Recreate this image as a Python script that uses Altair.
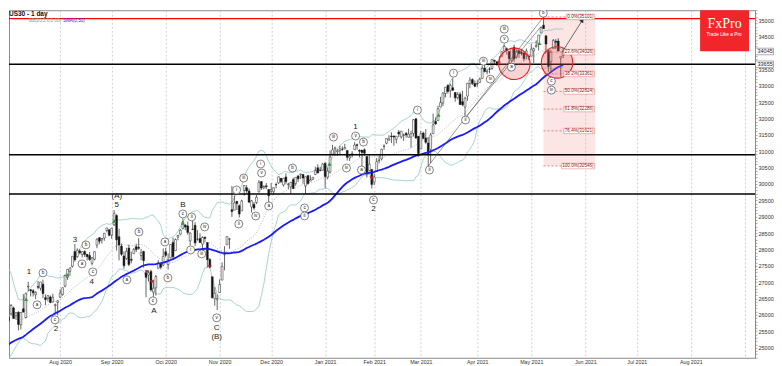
import altair as alt
import pandas as pd

# ---------------- US30 daily candles: bar 0 = 29 Jun 2020 ... bar 229 = 20 May 2021 ----------------
opens = [
    25152, 25512, 25879, 25933, 26035, 26213, 25971, 26081, 25698, 26185, 25919, 26852, 26768, 26737, 26615, 26868, 26814, 26938, 26524, 26502, 26548, 26396, 26283, 26382,
    26538, 26622, 26878, 27146, 27331, 27487, 27937, 27777, 27952, 27842, 27932, 27848, 27816, 27574, 27698, 28130, 28358, 28291, 28344, 28577, 28600,
    28439, 28749, 29035, 28388, 28100, 27800, 27718, 28040, 27697, 27870, 28084, 28066, 27813, 27934, 27286, 27218, 27328, 26693, 26826, 27422, 27576, 27522,
    27925, 27536, 27744, 28214, 27961, 28378, 28466, 28643, 28742, 28718, 28262, 28616, 28736, 28307, 28336, 28158, 28372, 28207, 27691, 27164, 26495, 26465,
    26681, 27062, 27834, 28136, 28310, 29211, 29199, 29467, 29333, 29175, 29803, 29883, 29785, 29298, 29376, 29433, 29755, 30073, 29880, 29940, 29829,
    29774, 29762, 29983, 30030, 30169, 29968, 30214, 29980, 29912, 30137, 30017, 30246, 30281, 30291, 29935, 30259, 30087, 30140, 30284, 30492, 30415, 30417,
    30627, 30204, 30362, 30904, 31069, 30983, 31016, 31063, 31068, 31023, 30790, 30887, 31047, 31196, 31026, 31032, 31040, 30838, 30409, 30442,
    30054, 30377, 30726, 30763, 31151, 31242, 31335, 31465, 31460, 31363, 31583, 31437, 31482, 31548, 31424, 31428, 31544, 31987, 31453,
    31066, 31552, 31403, 31246, 31054, 31531, 31910, 31933, 32351, 32472, 32761, 33005, 32849, 32937, 32793, 32629, 32740, 32512, 32344, 32681, 33060, 33187, 33070,
    33062, 33100, 33222, 33535, 33424, 33513, 33525, 33775, 33728, 33698, 33901, 34060, 34130, 34047, 33772, 34171, 33871, 34064, 34024, 33998, 33954, 33898,
    33904, 34060, 34191, 34271, 34609, 34849, 34525, 34069, 33730, 34138, 34357, 34365, 33845, 33920,
]
highs = [
    25600, 25905, 26018, 26205, 26331, 26251, 26075, 26109, 26084, 26632, 26681, 27013, 26784, 26784, 26723, 27030, 27005, 27078, 26627, 26601, 26595, 26646, 26345, 26443,
    26782, 26835, 27225, 27402, 27439, 27793, 28163, 28033, 28011, 27931, 27974, 27856, 27917, 27767, 27937, 28342, 28376, 28351, 28502, 28660, 28616,
    28659, 29199, 29072, 28630, 28180, 27940, 28051, 28145, 27931, 28044, 28173, 28339, 28016, 27961, 27371, 27361, 27380, 27077, 27213, 27670, 27599, 28030,
    28043, 27878, 28162, 28354, 28332, 28444, 28622, 28946, 28779, 28852, 28523, 28909, 28831, 28588, 28495, 28404, 28390, 28207, 27735, 27164, 26848, 26622,
    27084, 27603, 28097, 28390, 28349, 29934, 29645, 29468, 29380, 29519, 29964, 29963, 29862, 29508, 29446, 29660, 30116, 30081, 29960, 30026, 29844,
    30030, 29889, 30037, 30220, 30180, 30185, 30320, 30036, 30054, 30194, 30201, 30249, 30313, 30291, 30228, 30259, 30264, 30210, 30525, 30600, 30526, 30637,
    30674, 30504, 31022, 31194, 31140, 31062, 31167, 31150, 31224, 31035, 30900, 31001, 31272, 31231, 31057, 31033, 31089, 30838, 30873, 30455,
    30317, 30789, 30864, 31076, 31211, 31391, 31486, 31579, 31485, 31465, 31644, 31614, 31535, 31578, 31686, 31625, 31982, 32010, 31464,
    31621, 31592, 31674, 31432, 31561, 32150, 32031, 32389, 32661, 32793, 32954, 33047, 33064, 33227, 32793, 32806, 32804, 32849, 32660, 33086, 33259, 33225, 33161,
    33167, 33250, 33617, 33660, 33514, 33565, 33810, 33793, 33757, 33901, 34050, 34257, 34171, 34061, 34156, 34256, 34111, 34086, 34125, 34015, 34136, 33959,
    34271, 34164, 34384, 34549, 34811, 35101, 34525, 34084, 34094, 34425, 34423, 34450, 33900, 34146,
]
lows = [
    25061, 25475, 25678, 25789, 25976, 25876, 25853, 25524, 25553, 26067, 25890, 26720, 26560, 26560, 26483, 26781, 26740, 26513, 26294, 26409, 26369, 26377, 26024, 25981,
    26518, 26586, 26843, 27071, 27189, 27445, 27627, 27741, 27846, 27752, 27766, 27662, 27656, 27511, 27664, 28034, 28159, 28178, 28263, 28522, 28397,
    28326, 28715, 27964, 27665, 27800, 27406, 27679, 27487, 27575, 27870, 27920, 27984, 27672, 27442, 26537, 27025, 26709, 26538, 26591, 27422, 27390, 27489,
    27756, 27384, 27721, 27704, 27961, 28276, 28430, 28607, 28584, 28448, 28123, 28590, 28101, 28264, 28196, 27958, 28218, 27448, 27434, 26505, 26280, 26143,
    26681, 27062, 27360, 28136, 28017, 28990, 29197, 29203, 28973, 29175, 29638, 29727, 29434, 29128, 29208, 29381, 29742, 29813, 29840, 29835, 29440,
    29709, 29662, 29866, 30002, 30022, 29920, 29986, 29846, 29698, 29843, 29940, 30062, 30147, 30005, 29698, 29971, 30087, 30117, 30284, 30322, 30378, 30408,
    29881, 30141, 30314, 30897, 30865, 30862, 30906, 31010, 31055, 30710, 30700, 30810, 31047, 31045, 30813, 30454, 30864, 30195, 30379, 29856,
    29963, 30377, 30628, 30715, 31043, 31213, 31330, 31246, 31165, 31237, 31430, 31379, 31312, 31413, 31424, 31105, 31446, 31376, 30827,
    31066, 31366, 31227, 30546, 30631, 31531, 31804, 31933, 32351, 32383, 32640, 32760, 32636, 32843, 32510, 32580, 32407, 32373, 32039, 32538, 32920, 33018, 32952,
    32963, 33080, 33222, 33404, 33345, 33375, 33490, 33625, 33603, 33674, 33880, 34060, 33947, 33600, 33725, 33725, 33826, 33850, 33920, 33749, 33803, 33780,
    33904, 33691, 34162, 34076, 34609, 34743, 33989, 33420, 33450, 34138, 34117, 34042, 33273, 33844,
]
closes = [
    25595, 25813, 25734, 25827, 26287, 25890, 26067, 25706, 26075, 26086, 26643, 26870, 26735, 26672, 26680, 26840, 27005, 26652, 26470, 26584, 26379, 26539, 26314, 26428,
    26664, 26828, 27201, 27387, 27433, 27791, 27687, 27976, 27897, 27931, 27844, 27778, 27692, 27739, 27930, 28308, 28249, 28332, 28492, 28654, 28430,
    28645, 29100, 28293, 28133, 27850, 27500, 27940, 27535, 27666, 27993, 27995, 28032, 27902, 27657, 27147, 27288, 26763, 26815, 27174, 27584, 27452, 27782,
    27817, 27683, 28149, 27773, 28303, 28426, 28587, 28838, 28680, 28515, 28494, 28606, 28196, 28309, 28211, 28364, 28336, 27686, 27464, 26520, 26660, 26502,
    26925, 27481, 27848, 28390, 28323, 29158, 29421, 29398, 29080, 29480, 29950, 29784, 29438, 29483, 29263, 29591, 30046, 29873, 29920, 29910, 29639,
    29824, 29883, 29970, 30218, 30070, 30174, 30068, 29999, 30047, 29862, 30200, 30155, 30304, 30179, 30216, 30015, 30129, 30200, 30404, 30335, 30410, 30606,
    30224, 30392, 30829, 31041, 31098, 31009, 31069, 31061, 31113, 30814, 30850, 30931, 31188, 31176, 30997, 30960, 30937, 30303, 30603, 29983,
    30212, 30688, 30724, 31056, 31148, 31386, 31376, 31438, 31431, 31458, 31523, 31613, 31494, 31494, 31522, 31537, 31962, 31402, 30932,
    31535, 31391, 31270, 30924, 31496, 31802, 31833, 32297, 32485, 32779, 32953, 32826, 33015, 32862, 32628, 32731, 32423, 32420, 32619, 33072, 33171, 33066, 32982,
    33054, 33200, 33527, 33430, 33446, 33504, 33801, 33745, 33677, 33730, 34036, 34200, 34078, 33821, 34137, 33815, 34043, 33982, 33984, 33820, 34060, 33875,
    34113, 34133, 34230, 34548, 34778, 34743, 34270, 33587, 34021, 34382, 34327, 34060, 33896, 34045,
]
# closes of the bars before the first one drawn (16 Apr - 26 Jun 2020): they only feed SMA(50) and BB(20)
pre_closes = [
    23538, 24242, 23650, 23019, 23475, 23515, 23775, 24134, 24101, 24634, 24346,
    23724, 23750, 23883, 23664, 23876, 24331, 24222, 23765, 23248, 23625, 23685, 24597, 24207, 24576, 24474, 24465, 24995, 25548, 25401, 25383,
    25475, 25742, 26270, 26282, 27111, 27572, 27272, 26990, 25128, 25606, 25763, 26290, 26120, 26080, 25871, 26025, 26156, 25446, 25745, 25016,
]

# month separators (bar index of first bar of each month) and their labels
month_idx = [24, 45, 67, 89, 110, 132, 152, 171, 194, 216, 238, 259, 281, 303]
month_lab = ["Aug 2020", "Sep 2020", "Oct 2020", "Nov 2020", "Dec 2020", "Jan 2021", "Feb 2021",
             "Mar 2021", "Apr 2021", "May 2021", "Jun 2021", "Jul 2021", "Aug 2021", ""]

# horizontal levels
black_levels = [33655, 30891, 29692]
red_levels = [35050]
axis_boxes = [34045, 33655]

# Fibonacci retracement
fib_pct = [0.0, 23.6, 38.2, 50.0, 61.8, 76.4, 100.0]
fib_price = [35101, 34026, 33361, 32824, 32286, 31621, 30546]
fib_from_bar = 221
fib_to_bar = 242.0

# Elliott wave labels (circled)
circ_text = ["a", "b", "c", "a", "b", "c", "a", "b", "c", "a", "b", "c", "ii", "i", "iv", "iii", "v",
             "i", "ii", "iii", "iv", "i", "v", "a", "b", "c", "ii", "iii", "iv", "v", "b", "a", "c",
             "i", "ii", "i", "ii", "iii", "iv", "iii", "v", "a", "b", "c", "iv"]
circ_bar = [14.6, 17.0, 21.9, 32.9, 34.5, 37.3, 51.2, 56.1, 61.8, 66.7, 67.9, 74.0, 77.6, 77.2, 82.9, 81.7, 87.8,
            95.9, 96.8, 98.8, 103.7, 105.7, 106.1, 109.0, 118.7, 123.6, 123.6, 135.4, 140.7, 144.4, 147.6, 146.8, 151.7,
            169.6, 174.5, 184.3, 189.2, 196.5, 199.3, 205.0, 205.0, 207.9, 220.9, 224.2, 224.2]
circ_price = [26306, 27282, 25848, 27557, 28136, 27313, 27069, 28533, 26428, 28228, 27130, 29082, 28991, 27984, 28686, 27862, 25910,
              29814, 28777, 30180, 29021, 30608, 30333, 29326, 30485, 29265, 29021, 31431, 30485, 31462, 31279, 30424, 29509,
              32255, 30424, 33384, 31950, 33750, 33200, 34726, 34421, 33567, 35214, 33139, 32865]
# Elliott wave labels (plain)
plain_text = ["1", "2", "3", "4", "5", "(A)", "A", "B", "C", "(B)", "1", "2"]
plain_bar = [11.3, 22.3, 30.0, 36.9, 47.1, 47.1, 62.2, 74.0, 87.8, 87.8, 144.4, 151.7]
plain_price = [27313, 25574, 28289, 27008, 29357, 29631, 26123, 29357, 25604, 25330, 31736, 29235]

# signal arrows
up_bar = [10.1, 27.0, 46.1, 74.0, 133.8, 178.2, 219.3]
up_price = [26474, 27221, 28869, 28808, 30608, 32102, 34299]
down_bar = [59.3, 61.4, 85.0, 150.9]
down_price = [27313, 27008, 27465, 30180]

# highlight circles
ring_bar = [209.1, 226.5]
ring_price = [33667, 33710]

# trend lines and projection arrow
trend_x1 = [174, 188.3]
trend_y1 = [30546, 31950]
trend_x2 = [221, 219.7]
trend_y2 = [35101, 34782]
arrow_bar = [228.6, 236.8]
arrow_price = [34024, 35000]

# ---------------- chart ----------------
PLOT_W, PLOT_H = 747, 348
BAR_PX = 2.457
x0 = 3.156
xs = alt.Scale(domain=[x0, x0 + PLOT_W / BAR_PX], nice=False, zero=False)
ys = alt.Scale(domain=[24689, 35305], nice=False, zero=False)

label_expr = " : ".join(f"datum.value == {i} ? '{l}'" for i, l in zip(month_idx, month_lab)) + " : ''"
x_axis = alt.Axis(values=month_idx, labelExpr=label_expr, title=None, grid=True, gridColor="#b8b8b8",
                  gridDash=[2, 2], gridWidth=0.7, ticks=False, domain=False, labelFontSize=5.3,
                  labelColor="#333333", labelFont="Liberation Sans", labelPadding=2, labelFlush=False,
                  labelOverlap=False)
# labels every 500; 34000 sits under the live-price box, as on the original
y_axis = alt.Axis(orient="right", values=list(range(24700, 35301, 100)),
                  labelExpr="(datum.value % 500 == 0 && datum.value != 34000) ? format(datum.value, 'd') : ''",
                  title=None, grid=False,
                  tickSize=2, tickColor="#777777", tickWidth=0.6, domain=False, labelFontSize=5.5,
                  labelColor="#333333", labelFont="Liberation Sans", labelPadding=1, labelOverlap=False,
                  labelFlush=False)

bars_df = pd.DataFrame({"i": list(range(len(closes))), "open": opens, "high": highs, "low": lows, "close": closes})

# indicators: SMA(50) and Bollinger(20, 2) of the closes, warmed up on the earlier bars
all_close = pd.Series(pre_closes + closes, dtype=float)
bb_mid_s = all_close.rolling(20).mean()
bb_sd_s = all_close.rolling(20).std(ddof=0)
ind_df = pd.DataFrame({
    "i": list(range(-len(pre_closes), len(closes))),
    "sma50": all_close.rolling(50, min_periods=1).mean(),
    "bb_mid": bb_mid_s,
    "bb_up": bb_mid_s + 2 * bb_sd_s,
    "bb_lo": bb_mid_s - 2 * bb_sd_s,
})
ind_df = ind_df[ind_df["i"] >= 0].reset_index(drop=True)


def X(f):
    return alt.X(f, scale=xs, axis=x_axis)


def Y(f):
    return alt.Y(f, scale=ys, axis=y_axis)


one = pd.DataFrame({"k": [0]})

# fib zone
fib_zone = alt.Chart(pd.DataFrame({"a": [fib_from_bar], "b": [fib_to_bar], "c": [fib_price[0]], "d": [fib_price[-1]]})).mark_rect(
    fill="#f0a0a0", opacity=0.28, clip=True).encode(x=X("a:Q"), x2="b:Q", y=Y("c:Q"), y2="d:Q")

ind = alt.Chart(ind_df)
bb_up = ind.mark_line(color="#93c6c6", strokeWidth=0.8, clip=True).encode(x=X("i:Q"), y=Y("bb_up:Q"))
bb_lo = ind.mark_line(color="#93c6c6", strokeWidth=0.8, clip=True).encode(x=X("i:Q"), y=Y("bb_lo:Q"))
bb_mid = ind.mark_line(color="#8c8c8c", strokeWidth=0.6, strokeDash=[1, 1.5], clip=True).encode(x=X("i:Q"), y=Y("bb_mid:Q"))
sma = ind.mark_line(color="#1a1aff", strokeWidth=1.8, clip=True).encode(x=X("i:Q"), y=Y("sma50:Q"))

# candles
wicks = alt.Chart(bars_df).mark_rule(color="#222222", strokeWidth=0.7, clip=True).encode(
    x=X("i:Q"), y=Y("low:Q"), y2="high:Q")
bodies = (alt.Chart(bars_df)
          .transform_calculate(xl="datum.i - 0.38", xr="datum.i + 0.38",
                               dir="datum.close >= datum.open ? 'up' : 'down'")
          .mark_rect(stroke="#222222", strokeWidth=0.5, clip=True)
          .encode(x=X("xl:Q"), x2="xr:Q", y=Y("open:Q"), y2="close:Q",
                  fill=alt.Fill("dir:N", scale=alt.Scale(domain=["up", "down"], range=["#ffffff", "#111111"]), legend=None)))

# horizontal levels
black_rules = alt.Chart(pd.DataFrame({"p": black_levels})).mark_rule(color="#000000", strokeWidth=1.3).encode(y=Y("p:Q"))
red_rules = alt.Chart(pd.DataFrame({"p": red_levels})).mark_rule(color="#ff0000", strokeWidth=1.1).encode(y=Y("p:Q"))

# fib levels
fib_font = 4.6
fib_labels = [f"{q:.1f}%({p})" for q, p in zip(fib_pct, fib_price)]
fib_left = [fib_to_bar - 0.2 - (len(s) * fib_font * 0.52 + 2) / BAR_PX for s in fib_labels]
fib_df = pd.DataFrame({"p": fib_price, "lab": fib_labels, "a": [fib_from_bar] * len(fib_price), "l": fib_left,
                       "r": [fib_to_bar - 0.2] * len(fib_price)})
fib_df["hi"] = fib_df["p"] + 85
fib_df["lo"] = fib_df["p"] - 85
fib_lines = alt.Chart(fib_df).mark_rule(color="#e05050", strokeWidth=0.7, strokeDash=[2, 2]).encode(
    x=X("a:Q"), x2="l:Q", y=Y("p:Q"))
fib_boxes = alt.Chart(fib_df).mark_rect(fill="white", stroke="#e08888", strokeWidth=0.6).encode(
    x=X("l:Q"), x2="r:Q", y=Y("hi:Q"), y2="lo:Q")
fib_text = alt.Chart(fib_df).mark_text(align="right", baseline="middle", fontSize=fib_font, font="Liberation Sans",
                                       color="#802020", dx=-1).encode(x=X("r:Q"), y=Y("p:Q"), text="lab:N")

# rings
rings = alt.Chart(pd.DataFrame({"i": ring_bar, "p": ring_price})).mark_point(
    shape="circle", size=990, filled=True, fill="#ee6666", fillOpacity=0.28, stroke="#e82020",
    strokeWidth=1.1, strokeOpacity=1).encode(x=X("i:Q"), y=Y("p:Q"))

# trend lines
trend = alt.Chart(pd.DataFrame({"x1": trend_x1, "y1": trend_y1, "x2": trend_x2, "y2": trend_y2})).mark_rule(
    color="#555555", strokeWidth=0.6).encode(x=X("x1:Q"), y=Y("y1:Q"), x2="x2:Q", y2="y2:Q")
arrow_line = alt.Chart(pd.DataFrame({"x1": [arrow_bar[0]], "y1": [arrow_price[0]], "x2": [arrow_bar[1]], "y2": [arrow_price[1]]})).mark_rule(
    color="#333333", strokeWidth=0.7).encode(x=X("x1:Q"), y=Y("y1:Q"), x2="x2:Q", y2="y2:Q")
arrow_head = alt.Chart(pd.DataFrame({"i": [arrow_bar[1]], "p": [arrow_price[1]]})).mark_point(
    shape="triangle-up", angle=32, size=22, filled=True, color="#222222", opacity=1).encode(x=X("i:Q"), y=Y("p:Q"))

# signal arrows
ups = alt.Chart(pd.DataFrame({"i": up_bar, "p": up_price})).mark_point(
    shape="triangle-up", size=16, filled=True, color="#2e9a2e", opacity=1).encode(x=X("i:Q"), y=Y("p:Q"))
downs = alt.Chart(pd.DataFrame({"i": down_bar, "p": down_price})).mark_point(
    shape="triangle-down", size=16, filled=True, color="#c02020", opacity=1).encode(x=X("i:Q"), y=Y("p:Q"))

# wave labels
circ_df = pd.DataFrame({"i": circ_bar, "p": circ_price, "t": circ_text})
circ_marks = alt.Chart(circ_df).mark_circle(size=64, color="white", opacity=1, stroke="#333333", strokeWidth=0.6,
                                            clip=True).encode(x=X("i:Q"), y=Y("p:Q"))
circ_txt = alt.Chart(circ_df).mark_text(fontSize=4.6, font="Liberation Sans", color="#111111", baseline="middle",
                                        clip=True).encode(x=X("i:Q"), y=Y("p:Q"), text="t:N")
plain_txt = alt.Chart(pd.DataFrame({"i": plain_bar, "p": plain_price, "t": plain_text})).mark_text(
    fontSize=8, font="Liberation Sans", color="#222222", baseline="middle").encode(x=X("i:Q"), y=Y("p:Q"), text="t:N")

# price boxes on the right axis
box_df = pd.DataFrame({"p": axis_boxes, "t": [str(v) for v in axis_boxes]})
box_df["hi"] = box_df["p"] + 100
box_df["lo"] = box_df["p"] - 100
axis_box = alt.Chart(box_df).mark_rect(fill="white", stroke="#777777", strokeWidth=0.6).encode(
    x=alt.value(PLOT_W + 0.5), x2=alt.value(PLOT_W + 18.5), y=Y("hi:Q"), y2="lo:Q")
axis_box_txt = alt.Chart(box_df).mark_text(align="left", baseline="middle", fontSize=5.5, font="Liberation Sans",
                                           color="#222222").encode(x=alt.value(PLOT_W + 2.5), y=Y("p:Q"), text="t:N")

# logo, title, legend
logo = alt.Chart(one).mark_rect(fill="#f0262b").encode(x=alt.value(PLOT_W - 55), x2=alt.value(PLOT_W - 6),
                                                       y=alt.value(0), y2=alt.value(41))
logo_t1 = alt.Chart(one).mark_text(text="FxPro", font="Liberation Serif", fontSize=14, color="white",
                                   baseline="middle").encode(x=alt.value(PLOT_W - 30.5), y=alt.value(13.5))
logo_t2 = alt.Chart(one).mark_text(text="Trade Like a Pro", font="Liberation Sans", fontSize=4.8, color="white",
                                   baseline="middle").encode(x=alt.value(PLOT_W - 31), y=alt.value(24.5))
title = alt.Chart(one).mark_text(text="US30 - 1 day", font="Liberation Sans", fontSize=6.5, fontWeight="bold",
                                 color="#111111", align="left", baseline="middle").encode(x=alt.value(0), y=alt.value(3.8))
leg1 = alt.Chart(one).mark_text(text="BB(20,2.0,2.00)", font="Liberation Sans", fontSize=4.6, color="#6aa8a8",
                                align="left", baseline="middle").encode(x=alt.value(20), y=alt.value(11))
leg2 = alt.Chart(one).mark_text(text="SMA(0,50)", font="Liberation Sans", fontSize=4.6, color="#2030e0",
                                align="left", baseline="middle").encode(x=alt.value(54), y=alt.value(11))

chart = alt.layer(
    fib_zone, bb_up, bb_lo, bb_mid, wicks, bodies, sma, black_rules, red_rules, fib_lines,
    rings, trend, arrow_line, arrow_head, ups, downs, circ_marks, circ_txt, plain_txt,
    fib_boxes, fib_text, axis_box, axis_box_txt, logo, logo_t1, logo_t2, title, leg1, leg2,
).properties(
    width=PLOT_W, height=PLOT_H, padding={"left": 0, "top": 0, "right": 0, "bottom": 0},
    background="white",
).configure_view(stroke="#8c8c8c", strokeWidth=1)

chart.save("out.html", embed_options={"renderer": "svg", "actions": False})
